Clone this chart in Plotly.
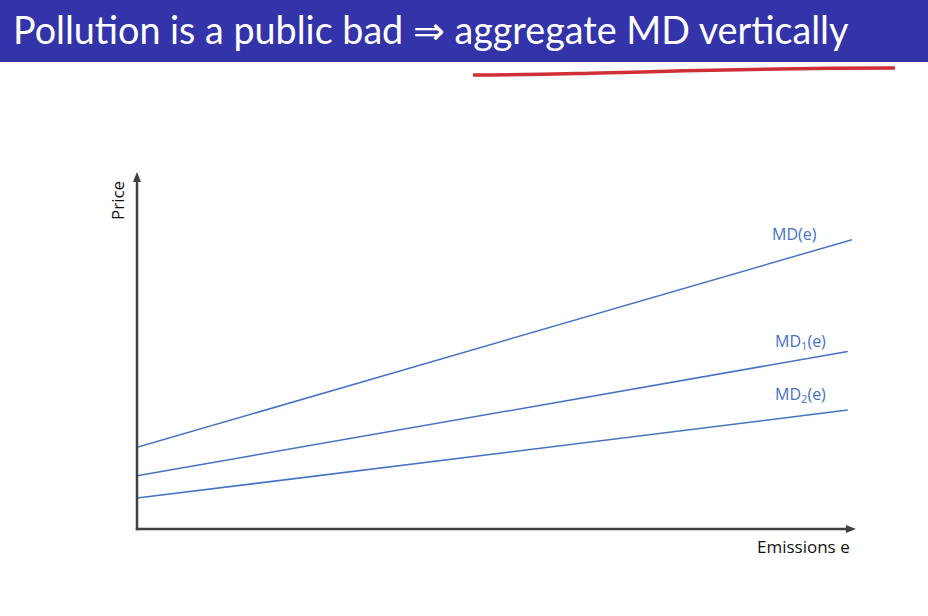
import plotly.graph_objects as go

# Data
emissions = [0, 100]
md_total = [23.0, 81.5]
md1_x = [0, 99.4]
md1 = [15.0, 50.0]
md2_x = [0, 99.4]
md2 = [8.7, 33.5]

W, H = 928, 616
line_color = "#4472C4"
axis_color = "#404040"

fig = go.Figure()
fig.add_trace(go.Scatter(x=emissions, y=md_total, mode="lines",
                         line=dict(color=line_color, width=1.5), showlegend=False))
fig.add_trace(go.Scatter(x=md1_x, y=md1, mode="lines",
                         line=dict(color=line_color, width=1.5), showlegend=False))
fig.add_trace(go.Scatter(x=md2_x, y=md2, mode="lines",
                         line=dict(color=line_color, width=1.5), showlegend=False))

# axis domain in pixels: x 137..852, y 529..174
x0p, x1p = 137, 852
y0p, y1p = 529, 174
fig.update_layout(
    width=W, height=H,
    margin=dict(l=0, r=0, t=0, b=0),
    plot_bgcolor="white", paper_bgcolor="white",
    xaxis=dict(domain=[x0p / W, x1p / W], range=[0, 100], visible=False, fixedrange=True),
    yaxis=dict(domain=[(H - y0p) / H, (H - y1p) / H], range=[0, 100], visible=False, fixedrange=True),
)

def px(x, y):
    return x / W, (H - y) / H

def pp(x, y):
    a, b = px(x, y)
    return f"{a:.4f},{b:.4f}"

# axis lines
ax_x0, ax_y0 = px(135.8, 529)
ax_x1, _ = px(848, 529)
fig.add_shape(type="line", xref="paper", yref="paper", x0=ax_x0, y0=ax_y0, x1=ax_x1, y1=ax_y0,
              line=dict(color=axis_color, width=2.5))
_, ay_y0 = px(137, 530.2)
_, ay_y1 = px(137, 180)
fig.add_shape(type="line", xref="paper", yref="paper", x0=px(137, 0)[0], y0=ay_y0,
              x1=px(137, 0)[0], y1=ay_y1, line=dict(color=axis_color, width=2.5))
# arrowheads
fig.add_shape(type="path", xref="paper", yref="paper",
              path="M " + pp(137, 172) + " L " + pp(133, 182) + " L " + pp(141, 182) + " Z",
              fillcolor=axis_color, line=dict(width=0))
fig.add_shape(type="path", xref="paper", yref="paper",
              path="M " + pp(856, 529) + " L " + pp(846, 525) + " L " + pp(846, 533) + " Z",
              fillcolor=axis_color, line=dict(width=0))

lab_font = dict(family="Open Sans, Liberation Sans, sans-serif", size=16, color=line_color)
fig.add_annotation(x=92.0, y=79.4, xref="x", yref="y", text="MD(e)", showarrow=False,
                   font=lab_font, xanchor="center", yanchor="bottom")
fig.add_annotation(x=92.8, y=49.1, xref="x", yref="y", text="MD<sub>1</sub>(e)", showarrow=False,
                   font=lab_font, xanchor="center", yanchor="bottom")
fig.add_annotation(x=92.8, y=34.1, xref="x", yref="y", text="MD<sub>2</sub>(e)", showarrow=False,
                   font=lab_font, xanchor="center", yanchor="bottom")

ax_font = dict(family="Open Sans, Liberation Sans, sans-serif", size=17, color="#111111")
ex, ey = px(803, 546)
fig.add_annotation(x=ex, y=ey, xref="paper", yref="paper", text="Emissions e",
                   showarrow=False, font=ax_font, xanchor="center", yanchor="middle")
prx, pry = px(117, 201)
fig.add_annotation(x=prx, y=pry, xref="paper", yref="paper", text="Price",
                   showarrow=False, font=ax_font, textangle=-90, xanchor="center", yanchor="middle")

# title bar
fig.add_shape(type="rect", xref="paper", yref="paper", x0=0, x1=1, y0=px(0, 62)[1], y1=1,
              fillcolor="#3333AA", line=dict(width=0), layer="below")
tx, ty = px(11, 30)
fig.add_annotation(x=tx, y=ty, xref="paper", yref="paper",
                   text="Pollution is a public bad \u21d2 aggregate MD vertically",
                   showarrow=False, xanchor="left", yanchor="middle",
                   font=dict(family="Lato, sans-serif", size=37.7, color="white"))

# red hand-drawn underline
path = ("M " + pp(473, 75) + " C " + pp(540, 75) + " " + pp(560, 74) + " " + pp(600, 73)
        + " C " + pp(700, 70) + " " + pp(800, 68) + " " + pp(895, 68))
fig.add_shape(type="path", xref="paper", yref="paper", path=path,
              line=dict(color="#D03035", width=3.5))

fig.write_html("out.html", config={"displayModeBar": False},
               post_script="document.body.style.margin='0';document.body.style.overflow='hidden';")
